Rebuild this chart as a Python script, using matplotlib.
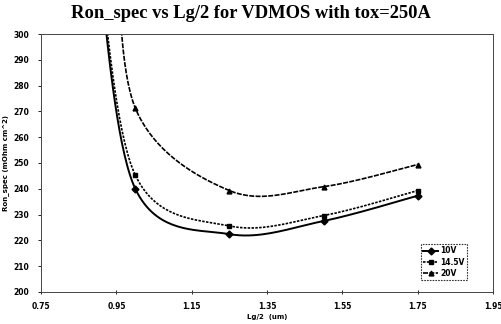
import matplotlib
matplotlib.use("Agg")
import matplotlib.pyplot as plt
import numpy as np

# data (first point of each series is above the plot top)
lg2 = [0.9, 1.0, 1.25, 1.5, 1.75]
lg2_20v = [0.95, 1.0, 1.25, 1.5, 1.75]
ron_10v = [330, 240, 222.4, 227.5, 237.3]
ron_14v = [333, 245.3, 225.6, 229.6, 239.3]
ron_20v = [345, 271.3, 239.3, 240.8, 249.4]
labels = ["10V", "14.5V", "20V"]

xticks = [0.75, 0.95, 1.15, 1.35, 1.55, 1.75, 1.95]
yticks = list(range(200, 301, 10))


def smooth(x, y, n=40):
    # Excel-style smoothed line: cubic bezier between points, catmull-rom handles
    x = np.asarray(x, float)
    y = np.asarray(y, float)
    px = np.concatenate([[x[0]], x, [x[-1]]])
    py = np.concatenate([[y[0]], y, [y[-1]]])
    xs, ys = [], []
    t = np.linspace(0, 1, n)
    for i in range(1, len(px) - 2):
        p0 = np.array([px[i], py[i]])
        p3 = np.array([px[i + 1], py[i + 1]])
        p1 = p0 + (np.array([px[i + 1], py[i + 1]]) - np.array([px[i - 1], py[i - 1]])) / 6
        p2 = p3 - (np.array([px[i + 2], py[i + 2]]) - np.array([px[i], py[i]])) / 6
        b = ((1 - t) ** 3)[:, None] * p0 + (3 * (1 - t) ** 2 * t)[:, None] * p1 \
            + (3 * (1 - t) * t ** 2)[:, None] * p2 + (t ** 3)[:, None] * p3
        xs.extend(b[:, 0])
        ys.extend(b[:, 1])
    return xs, ys


fig = plt.figure(figsize=(5.02, 3.24), dpi=100)
ax = fig.add_axes([0.082, 0.099, 0.9, 0.796])

series = [(lg2, ron_10v), (lg2, ron_14v), (lg2_20v, ron_20v)]
styles = [("-", "D", 1.4), ((0, (1.5, 0.8)), "s", 1.2), ((0, (3, 0.8)), "^", 1.2)]
for (xs, ys), lab, (ls, mk, lw) in zip(series, labels, styles):
    sx, sy = smooth(xs, ys)
    ax.plot(sx, sy, color="black", linestyle=ls, linewidth=lw)
    ax.plot(xs, ys, linestyle="none", marker=mk, color="black", markersize=3.5)
    ax.plot([], [], color="black", linestyle=ls, linewidth=lw, marker=mk,
            markersize=3.5, label=lab)

ax.set_xlim(0.75, 1.95)
ax.set_ylim(200, 300)
ax.set_xticks(xticks)
ax.set_xticklabels(["%.2f" % v for v in xticks])
ax.set_yticks(yticks)
ax.tick_params(labelsize=5.5, length=2.5, width=0.6, pad=6)
for lbl in ax.get_xticklabels() + ax.get_yticklabels():
    lbl.set_fontweight("bold")
ax.tick_params(axis="x", direction="inout", length=3)

for s in ax.spines.values():
    s.set_linestyle((0, (2, 1)))
    s.set_linewidth(0.7)
    s.set_color("#444444")

ax.set_xlabel("Lg/2  (um)", fontsize=5, fontweight="bold", labelpad=2)
ax.set_ylabel("Ron_spec (mOhm cm^2)", fontsize=5, fontweight="bold", labelpad=3)
fig.suptitle("Ron_spec vs Lg/2 for VDMOS with tox=250A", family="Liberation Serif",
             fontweight="bold", fontsize=13.3, y=0.985)

leg = ax.legend(loc="lower right", bbox_to_anchor=(0.95, 0.03),
                prop={"weight": "bold", "size": 5.5}, frameon=True, fancybox=False,
                handlelength=2.0, borderpad=0.3, labelspacing=0.3, handletextpad=0.2)
leg.get_frame().set_edgecolor("black")
leg.get_frame().set_linestyle((0, (1.5, 1)))
leg.get_frame().set_linewidth(0.8)

fig.savefig("out.png", dpi=100)
